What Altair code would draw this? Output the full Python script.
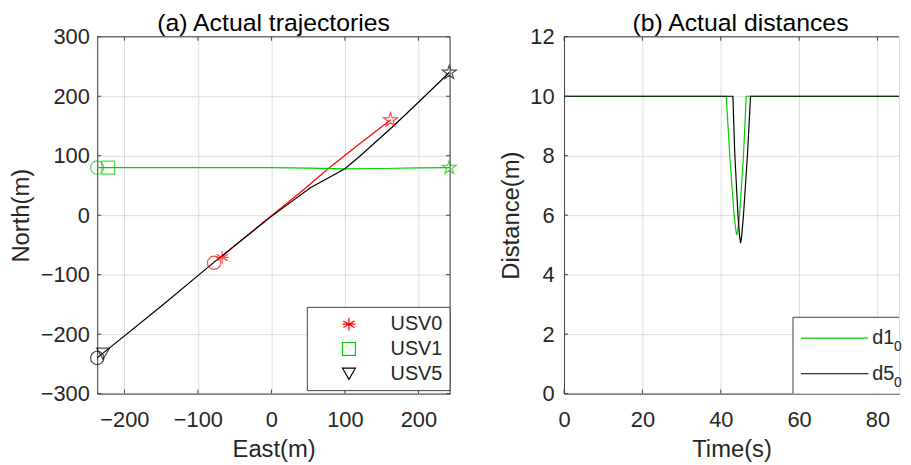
import altair as alt
import pandas as pd
import numpy as np

# ---------------- data ----------------
# (a) trajectories
usv0_east = [-68, -30, 0, 40, 78, 120, 162]
usv0_north = [-70, -31, -1, 39, 79, 120, 160]
usv1_east = [-237, -150, -50, 0, 50, 100, 150, 200, 242]
usv1_north = [80, 80, 80, 80, 79, 78, 78.5, 79.5, 80]
usv5_east = [-237, -150, -75, 0, 53, 100, 121, 166, 200, 242]
usv5_north = [-240, -153, -76, -2, 46, 78, 100, 150, 190, 240]

start_east = [-78, -237, -237]
start_north = [-80, 80, -240]
mark_east = [-67, -222, -229]
mark_north = [-71, 80, -233]
end_east = [162, 242, 242]
end_north = [160, 80, 240]
names = ["USV0", "USV1", "USV5"]
colors = ["#ff0000", "#00d000", "#000000"]

# (b) distances
t_d1 = [0, 41.4, 42.3, 43.4, 43.9, 44.1, 44.35, 44.8, 45.8, 46.5, 90]
d1 = [10, 10, 8, 6, 5.45, 5.33, 5.5, 6, 8, 10, 10]
t_d5 = [0, 43.1, 43.6, 44.4, 44.8, 45.06, 45.3, 45.8, 46.8, 47.6, 90]
d5 = [10, 10, 8, 6, 5.3, 5.06, 5.25, 6, 8, 10, 10]

x_ticks_a = [-200, -100, 0, 100, 200]
y_ticks_a = [-300, -200, -100, 0, 100, 200, 300]
x_ticks_b = [0, 20, 40, 60, 80]
y_ticks_b = [0, 2, 4, 6, 8, 10, 12]

# ---------------- styling ----------------
FONT = "Liberation Sans"
TXT = "#262626"
AX = "#404040"
GRID = "#dcdcdc"

ang = np.deg2rad(-90 + 36 * np.arange(10))
rad = np.where(np.arange(10) % 2 == 0, 1.0, 0.382)
STAR = "M" + "L".join(f"{r*np.cos(a):.3f},{r*np.sin(a):.3f}" for r, a in zip(rad, ang)) + "Z"
ASTER = "M0,-1L0,1M-0.87,-0.5L0.87,0.5M-0.87,0.5L0.87,-0.5M-1,0L1,0"
shapes = [ASTER, "square", "triangle-down"]


def axis_x(vals, title):
    return alt.Axis(values=vals, title=title, grid=True, gridColor=GRID, tickSize=0,
                    labelPadding=16, labelFontSize=22, labelFont=FONT, labelColor=TXT,
                    titleFontSize=24, titleFont=FONT, titleFontWeight="normal", titleColor=TXT,
                    titlePadding=7, domainColor=AX, labelFlush=False)


def axis_y(vals, title, lp, tp):
    return alt.Axis(values=vals, title=title, grid=True, gridColor=GRID, tickSize=0,
                    labelPadding=lp, labelFontSize=22, labelFont=FONT, labelColor=TXT,
                    titleFontSize=24, titleFont=FONT, titleFontWeight="normal", titleColor=TXT,
                    titlePadding=tp, domainColor=AX, labelFlush=False)


one = pd.DataFrame({"a": [0]})


def title_text(txt, w):
    return alt.Chart(one).mark_text(text=txt, align="center", baseline="alphabetic", fontSize=25,
                                    font=FONT, color="#000000").encode(
        x=alt.value(w / 2), y=alt.value(-6))


def inner_ticks(xvals, yvals, xs, ys, w, h, right=True):
    """MATLAB-style short ticks drawn inside the axes box."""
    L = 4
    xd = pd.DataFrame({"v": xvals})
    yd = pd.DataFrame({"v": yvals})
    out = [
        alt.Chart(xd).mark_rule(color=AX).encode(x=alt.X("v:Q", scale=xs), y=alt.value(h - L), y2=alt.value(h)),
        alt.Chart(xd).mark_rule(color=AX).encode(x=alt.X("v:Q", scale=xs), y=alt.value(0), y2=alt.value(L)),
        alt.Chart(yd).mark_rule(color=AX).encode(y=alt.Y("v:Q", scale=ys), x=alt.value(0), x2=alt.value(L)),
    ]
    if right:
        out.append(alt.Chart(yd).mark_rule(color=AX).encode(y=alt.Y("v:Q", scale=ys),
                                                            x=alt.value(w - L), x2=alt.value(w)))
    return out


# ---------------- panel (a) ----------------
W_A = 356
H = 360
xs_a = alt.Scale(domain=[-237, 243], nice=False, zero=False)
ys_a = alt.Scale(domain=[-300, 300], nice=False, zero=False)

rows = []
for n, ee, nn in zip(names, [usv0_east, usv1_east, usv5_east], [usv0_north, usv1_north, usv5_north]):
    for i, (e, v) in enumerate(zip(ee, nn)):
        rows.append({"name": n, "east": e, "north": v, "order": i})
traj = pd.DataFrame(rows)
pts = pd.DataFrame({"name": names, "se": start_east, "sn": start_north,
                    "me": mark_east, "mn": mark_north, "ee": end_east, "en": end_north})
cscale = alt.Scale(domain=names, range=colors)

lines_a = alt.Chart(traj).mark_line(strokeWidth=1.2).encode(
    x=alt.X("east:Q", scale=xs_a, axis=axis_x(x_ticks_a, "East(m)")),
    y=alt.Y("north:Q", scale=ys_a, axis=axis_y(y_ticks_a, "North(m)", 8, 7)),
    color=alt.Color("name:N", scale=cscale, legend=None),
    detail="name:N", order="order:Q")

start_l = alt.Chart(pts).mark_point(shape="circle", filled=False, size=180, strokeWidth=1.2).encode(
    x=alt.X("se:Q", scale=xs_a), y=alt.Y("sn:Q", scale=ys_a),
    color=alt.Color("name:N", scale=cscale, legend=None))
end_l = alt.Chart(pts).mark_point(shape=STAR, filled=False, size=220, strokeWidth=1.2).encode(
    x=alt.X("ee:Q", scale=xs_a), y=alt.Y("en:Q", scale=ys_a),
    color=alt.Color("name:N", scale=cscale, legend=None))
mark_l = alt.Chart(pts).mark_point(filled=False, size=170, strokeWidth=1.2).encode(
    x=alt.X("me:Q", scale=xs_a), y=alt.Y("mn:Q", scale=ys_a),
    color=alt.Color("name:N", scale=cscale, legend=None),
    shape=alt.Shape("name:N", scale=alt.Scale(domain=names, range=shapes), legend=None))

top_a = alt.Chart(one).mark_rule(color=AX, strokeWidth=1).encode(y=alt.value(0))
right_a = alt.Chart(one).mark_rule(color=AX, strokeWidth=1).encode(x=alt.value(W_A))

leg_layers = [alt.Chart(one).mark_rect(fill="white", stroke=AX, strokeWidth=1).encode(
    x=alt.value(212), x2=alt.value(W_A), y=alt.value(273), y2=alt.value(357))]
for i, (n, c, s) in enumerate(zip(names, colors, shapes)):
    yy = 290 + 25 * i
    leg_layers.append(alt.Chart(one).mark_point(shape=s, filled=False, size=170, color=c,
                                                 strokeWidth=1.2, opacity=1).encode(
        x=alt.value(254), y=alt.value(yy)))
    leg_layers.append(alt.Chart(one).mark_text(text=n, align="left", baseline="middle",
                                                fontSize=20, font=FONT, color=TXT).encode(
        x=alt.value(296), y=alt.value(yy)))

panel_a = alt.layer(lines_a, *inner_ticks(x_ticks_a, y_ticks_a, xs_a, ys_a, W_A, H),
                    start_l, mark_l, end_l, top_a, right_a, *leg_layers,
                    title_text("(a) Actual trajectories", W_A)).properties(width=W_A, height=H)

# ---------------- panel (b) ----------------
W_B = 338
xs_b = alt.Scale(domain=[0, 85.5], nice=False, zero=False)
ys_b = alt.Scale(domain=[0, 12], nice=False, zero=False)

d1_df = pd.DataFrame({"t": t_d1, "d": d1, "o": range(len(t_d1))})
d5_df = pd.DataFrame({"t": t_d5, "d": d5, "o": range(len(t_d5))})
line_d1 = alt.Chart(d1_df).mark_line(strokeWidth=1.2, clip=True, color="#00d000").encode(
    x=alt.X("t:Q", scale=xs_b, axis=axis_x(x_ticks_b, "Time(s)")),
    y=alt.Y("d:Q", scale=ys_b, axis=axis_y(y_ticks_b, "Distance(m)", 10, 6)),
    order="o:Q")
line_d5 = alt.Chart(d5_df).mark_line(strokeWidth=1.2, clip=True, color="#000000").encode(
    x=alt.X("t:Q", scale=xs_b), y=alt.Y("d:Q", scale=ys_b), order="o:Q")

top_b = alt.Chart(one).mark_rule(color=AX, strokeWidth=1).encode(y=alt.value(0))
lb = [
    alt.Chart(one).mark_rect(fill="white").encode(
        x=alt.value(231), x2=alt.value(W_B), y=alt.value(283), y2=alt.value(360)),
    alt.Chart(one).mark_rule(color=AX).encode(x=alt.value(231), x2=alt.value(W_B), y=alt.value(283)),
    alt.Chart(one).mark_rule(color=AX).encode(x=alt.value(231), y=alt.value(283), y2=alt.value(360)),
    alt.Chart(one).mark_rule(color="#00d000", strokeWidth=1.2).encode(
        x=alt.value(239), x2=alt.value(307), y=alt.value(304)),
    alt.Chart(one).mark_rule(color="#000000", strokeWidth=1.2).encode(
        x=alt.value(239), x2=alt.value(307), y=alt.value(340)),
]
for yy, lab in [(304, "d1"), (340, "d5")]:
    lb.append(alt.Chart(one).mark_text(text=lab, align="left", baseline="middle", fontSize=20,
                                       font=FONT, color=TXT).encode(x=alt.value(311), y=alt.value(yy)))
    lb.append(alt.Chart(one).mark_text(text="0", align="left", baseline="middle", fontSize=14,
                                       font=FONT, color=TXT).encode(x=alt.value(333), y=alt.value(yy + 9)))

panel_b = alt.layer(line_d1, line_d5,
                    *inner_ticks(x_ticks_b, y_ticks_b, xs_b, ys_b, W_B, H, right=False),
                    top_b, *lb,
                    title_text("(b) Actual distances", 356)).properties(width=W_B, height=H)

chart = alt.hconcat(panel_a, panel_b, spacing=40).properties(
    padding={"left": 0, "top": 0, "right": 0, "bottom": 0}
).resolve_scale(color="independent", shape="independent"
).configure_view(stroke=None).configure(background="white")

chart.save("out.html", embed_options={"renderer": "svg", "actions": False})
